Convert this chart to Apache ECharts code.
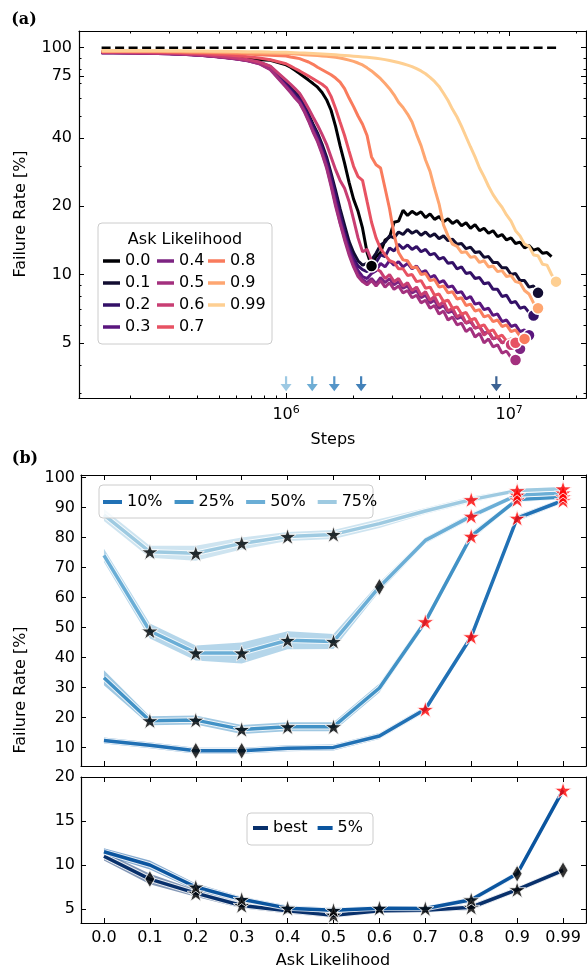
<!DOCTYPE html>
<html><head><meta charset="utf-8">
<script src="https://cdn.jsdelivr.net/npm/echarts@6/dist/echarts.min.js"></script>
<style>html,body{margin:0;padding:0;background:#fff}#c{width:587px;height:970px}</style>
</head><body><div id="c"></div>
<script>
// ---------- Panel (a) data ----------
const steps = [1.49e5,1.67e5,1.88e5,2.11e5,2.37e5,2.66e5,2.99e5,3.36e5,3.77e5,4.24e5,4.76e5,5.34e5,6.00e5,6.74e5,7.57e5,8.50e5,
1.000e6,1.048e6,1.097e6,1.150e6,1.204e6,1.261e6,1.321e6,1.384e6,1.450e6,1.519e6,1.591e6,1.667e6,1.746e6,1.829e6,1.916e6,2.007e6,2.102e6,2.202e6,2.307e6,2.416e6,2.531e6,2.652e6,2.778e6,2.910e6,3.048e6,3.193e6,3.345e6,3.504e6,3.670e6,3.845e6,4.027e6,4.219e6,4.419e6,4.629e6,4.849e6,5.080e6,5.321e6,5.574e6,5.839e6,6.117e6,6.408e6,6.712e6,7.031e6,7.366e6,7.716e6,8.082e6,8.467e6,8.869e6,9.291e6,9.732e6,1.0195e7,1.068e7,1.1187e7,1.1719e7,1.2276e7,1.286e7,1.3471e7,1.4111e7,1.4782e7,1.5485e7,1.6221e7,1.6992e7];
const likelihoods = ['0.0','0.1','0.2','0.3','0.4','0.5','0.6','0.7','0.8','0.9','0.99'];
const fr00 = [95.5,95.5,95.4,95.3,95.2,95.0,94.8,94.5,94.0,93.5,92.8,92.0,91.0,90.0,88.5,88,
84,82,79.5,77,74.5,72,69.5,67,63.5,59,53,45,37,31,25.5,21.5,19,16,12.5,10.9,
12.0,12.5,14.2,14.6,17.0,17.2,19.2,18.2,19.0,18.4,18.9,17.8,18.5,17.5,18.0,17.1,17.6,16.8,17.3,16.4,16.9,16.0,16.6,15.6,16.0,15.2,15.6,14.7,15.0,14.2,14.5,13.7,13.9,13.1,13.4,12.8,13.0,12.4,12.5,12.0];
const fr01 = [95.2,95.2,95.1,95.0,94.8,94.6,94.3,93.9,93.4,92.7,91.8,90.8,89.6,88.2,86.3,82.5,
70,67,63.5,60.5,56,51,46,42,37.5,33,28,23.5,19.5,16.5,14,12.5,11.5,11.0,11.2,
11.6,12.4,13.5,13.9,14.8,14.5,15.4,15.0,15.8,15.2,15.6,14.9,15.4,14.7,15.1,14.4,14.8,14.1,14.3,13.6,13.7,13.0,13.2,12.5,12.6,11.9,12.0,11.3,11.3,10.7,10.7,10.0,10.1,9.4,9.4,8.8,8.9,8.3];
const fr02 = [95.1,95.1,95.0,94.9,94.7,94.5,94.2,93.8,93.3,92.6,91.7,90.7,89.5,88.1,86.0,82.0,
69,66,62.5,59.5,55,50,45,41,36.5,32,27,22.5,18.5,15.5,13.2,11.8,10.9,10.5,10.3,
10.9,11.3,12.2,12.0,13.1,12.7,13.6,13.0,13.5,12.9,13.3,12.6,12.9,12.2,12.4,11.7,11.9,11.2,11.3,10.6,10.8,10.1,10.2,9.6,9.7,9.1,9.2,8.6,8.6,8.0,8.1,7.5,7.6,7.1,7.2,6.8,6.6];
const fr03 = [95.0,95.0,94.9,94.8,94.6,94.4,94.1,93.7,93.2,92.5,91.6,90.6,89.3,87.8,85.5,81.0,
68,64.5,61,58,53.5,48.5,43.5,39.5,35,30.5,25.5,21,17.5,14.8,12.8,11.4,10.4,9.8,9.6,
10.1,10.4,11.2,10.8,11.5,11.0,11.4,10.8,11.2,10.6,10.9,10.2,10.4,9.7,9.9,9.2,9.4,8.8,8.9,8.3,8.4,7.8,8.0,7.4,7.5,7.0,7.1,6.6,6.7,6.2,6.3,5.9,6.0,5.6,5.7,5.4];
const fr04 = [95.0,95.0,94.9,94.8,94.6,94.4,94.1,93.7,93.1,92.4,91.5,90.5,89.2,87.6,85.2,80.5,
67.5,64,60.5,57.5,53,48,43,39,34.5,30,25,20.5,17,14.5,12.5,11.0,10.0,9.5,9.2,
9.6,9.1,9.7,9.2,9.6,9.0,9.3,8.7,8.9,8.3,8.5,7.9,8.1,7.5,7.7,7.1,7.3,6.8,6.9,6.4,6.5,6.1,6.2,5.8,5.9,5.5,5.6,5.2,5.3,5.0,5.1,4.8,4.9,4.7];
const fr05 = [94.9,94.9,94.8,94.7,94.5,94.3,94.0,93.6,93.0,92.3,91.4,90.4,89.1,87.5,85.0,80.0,
67,63.5,60,57,52.5,47.5,42.5,38.5,34,29.5,24.5,20,16.8,14.2,12.2,10.8,9.8,9.3,9.0,
9.4,8.9,9.4,8.8,9.2,8.6,8.9,8.3,8.5,7.9,8.1,7.5,7.7,7.1,7.3,6.7,6.9,6.3,6.5,6.0,6.1,5.6,5.8,5.3,5.5,5.0,5.2,4.8,4.9,4.5,4.6,4.3,4.2];
const fr06 = [95.3,95.3,95.2,95.1,95.0,94.8,94.5,94.2,93.7,93.0,92.2,91.2,90.0,88.6,86.5,83.0,
72,69,66,63,58.5,54,49.5,45.5,41.5,37.5,33,29,26,24,21,17.5,14.5,12.6,12.9,11.5,
10.6,10.3,9.6,10.0,9.3,9.6,8.9,9.2,8.5,8.8,8.1,8.4,7.7,8.0,7.3,7.6,6.9,7.1,6.5,6.7,6.1,6.3,5.8,5.9,5.4,5.6,5.2,5.3,5.0,5.1,4.9];
const fr07 = [96.0,96.0,95.9,95.8,95.7,95.5,95.3,95.0,94.6,94.2,93.6,93.0,92.2,91.3,90.0,88.5,
85,83,81,79,77,75,73,71,69,66.5,61,54,47,41,35,30,27,26,21,17,14.5,13,12.2,11.5,
11.3,10.6,10.6,9.9,10.0,9.3,9.4,8.7,8.8,8.1,8.2,7.6,7.7,7.1,7.2,6.7,6.8,6.3,6.4,5.9,6.0,5.6,5.7,5.3,5.4,5.1,5.2,5.0];
const fr08 = [96.5,96.5,96.5,96.4,96.3,96.2,96.0,95.8,95.6,95.3,95.0,94.7,94.3,93.8,93.2,92.6,
92,91,90.3,89.5,88,86.5,84.5,82,80,78,76,73.5,70.5,66,60,55,50,46,41,33,30.5,29.5,24,19.5,15,12.5,11.6,
11.5,10.7,10.8,10.0,10.1,9.4,9.5,8.8,8.9,8.3,8.4,7.8,7.9,7.3,7.4,6.9,7.0,6.5,6.6,6.2,6.3,5.9,6.0,5.6,5.7,5.35,5.2];
const fr09 = [96.5,96.5,96.5,96.5,96.4,96.4,96.3,96.2,96.1,96.0,95.8,95.6,95.4,95.1,94.8,94.5,
94.3,94.1,93.8,93.5,93.2,92.9,92.6,92.3,92.0,91.6,91.2,90.7,90.0,89.2,88.2,87.0,85.6,84.0,81.5,79,76,73,69.5,66,62,57.5,54.5,51,47,41.5,37,32,28.5,24,20.5,16.5,14.8,13.6,
13.3,12.5,12.6,11.9,12.0,11.3,11.5,10.8,10.9,10.3,10.4,9.8,9.9,9.3,9.2,8.5,8.2,7.5,7.1];
const fr099 = [97,97,97,97,97,97,97,96.9,96.8,96.7,96.6,96.5,96.3,96.1,95.9,95.7,
95.5,95.3,95.1,94.9,94.7,94.5,94.3,94.1,93.9,93.6,93.3,93.0,92.7,92.4,92.1,91.8,91.5,91.1,90.7,90.3,89.8,89.3,88.6,87.8,87.0,86.0,85.0,83.8,82.5,80.8,79.0,76.8,74.0,71.0,67.5,63.0,58.5,53.5,49.5,45.0,40.5,36.5,33.0,29.5,27.0,24.5,22.5,21.0,19.8,18.3,17.2,15.6,14.8,13.6,13.3,12.2,12.1,11.1,11.0,10.0,9.3];
const refSteps = [1.49e5, 1.68e7];
const refValue = 100;
const arrowSteps = [1.0e6, 1.31e6, 1.645e6, 2.17e6, 8.76e6];
const xTicksA = [1e6, 1e7];
const xMinorA = [2e5,3e5,4e5,5e5,6e5,7e5,8e5,9e5,2e6,3e6,4e6,5e6,6e6,7e6,8e6,9e6,2e7];
const yTicksA = [5, 10, 20, 40, 75, 100];
const yMinorA = [3,4,6,7,8,9,30,50,60,70,80,90];

// ---------- Panel (b) data ----------
const categories = ['0.0','0.1','0.2','0.3','0.4','0.5','0.6','0.7','0.8','0.9','0.99'];
const p10 = [12.3, 10.7, 8.9, 8.9, 9.7, 10.0, 13.8, 22.7, 46.9, 86.4, 92.3];
const p25 = [33.2, 18.9, 19.1, 16.0, 16.9, 16.9, 29.8, 51.9, 80.4, 92.6, 93.5];
const p50 = [74.0, 48.8, 41.5, 41.5, 45.7, 45.3, 63.5, 79.0, 87.1, 94.1, 94.8];
const p75 = [87.5, 75.2, 74.7, 78.0, 80.3, 81.0, 84.6, 88.8, 92.6, 95.6, 96.2];
const sd10 = [1.0, 1.0, 1.0, 1.0, 1.0, 1.0, 1.0, 1.0, 1.2, 1.0, 0.8];
const sd25 = [2.5, 1.5, 1.5, 1.5, 1.5, 1.5, 1.5, 1.2, 1.2, 0.8, 0.8];
const sd50 = [2.2, 2.5, 2.5, 3.5, 3.0, 2.5, 1.5, 1.0, 1.0, 0.6, 0.5];
const sd75 = [2.0, 2.0, 2.5, 2.0, 1.5, 1.5, 1.5, 1.0, 1.0, 0.6, 0.5];
const mk10 = ['', '', 'd','d','','','','r','r','r','r'];
const mk25 = ['', 's','s','s','s','s','','r','r','r','r'];
const mk50 = ['', 's','s','s','s','s','d','','r','r','r'];
const mk75 = ['', 's','s','s','s','s','','','r','r','r'];
const pBest = [11.0, 8.4, 6.8, 5.4, 4.8, 4.3, 4.8, 4.85, 5.2, 7.2, 9.4];
const p5 = [11.5, 10.0, 7.5, 6.1, 5.1, 4.85, 5.1, 5.05, 6.05, 9.0, 18.5];
const sdBest = [0.5, 0.6, 0.4, 0.3, 0.3, 0.3, 0.25, 0.25, 0.3, 0.3, 0.3];
const sd5 = [0.4, 0.5, 0.4, 0.3, 0.3, 0.3, 0.25, 0.25, 0.3, 0.3, 0.4];
const mkBest = ['', 'd','s','s','','s','','','s','s','d'];
const mk5 = ['', '', 's','s','s','s','s','s','s','d','r'];
const yTicksB1 = [10,20,30,40,50,60,70,80,90,100];
const yTicksB2 = [5,10,15,20];

// ---------- styling ----------
const FONT = 'DejaVu Sans';
const magma = ['#000004','#120d31','#331067','#5a167e','#7d2482','#a3307e','#c83e73','#e75263','#f97b5d','#fea671','#fecf92'];
const arrowColors = ['#85bcdc','#4a98c9','#2b7bba','#1462a8','#0b3b78'];
const cols = {p10:'#2171b5', p25:'#4292c6', p50:'#6baed6', p75:'#9ecae1', best:'#08306b', p5:'#0b559f'};
const STAR = 'path://M50 0 L61.2 34.5 L97.6 34.5 L68.2 55.9 L79.4 90.5 L50 69.1 L20.6 90.5 L31.8 55.9 L2.4 34.5 L38.8 34.5 Z';
const ARROW = 'path://M40 0 L60 0 L60 52 L100 52 L50 100 L0 52 L40 52 Z';

const chart = echarts.init(document.getElementById('c'), null, {renderer:'canvas'});
const lineAx = {show:true, onZero:false, lineStyle:{color:'#000', width:1.2}};
const txt = {color:'#000', fontFamily:FONT, fontSize:16};

function xLog(pos, ticks, len, label, line) {
  return {type:'log', logBase:10, gridIndex:0, position:pos, min:1.18e5, max:2.21e7,
    axisLine: line ? lineAx : {show:false},
    axisTick:{show:true, inside:true, length:len, customValues:ticks, lineStyle:{color:'#000', width:1}},
    axisLabel: label ? {show:true, customValues:ticks, margin:7,
      formatter: v => '{b|10}{s|' + Math.round(Math.log10(v)) + '}',
      rich:{b:{fontSize:16, fontFamily:FONT, color:'#000', lineHeight:20}, s:{fontSize:11, fontFamily:FONT, color:'#000', verticalAlign:'top', lineHeight:11}}} : {show:false},
    splitLine:{show:false}, minorTick:{show:false}};
}
function yLog(pos, ticks, len, label, line) {
  return {type:'log', logBase:10, gridIndex:0, position:pos, min:2.854, max:118.5,
    axisLine: line ? lineAx : {show:false},
    axisTick:{show:true, inside:true, length:len, customValues:ticks, lineStyle:{color:'#000', width:1}},
    axisLabel: label ? Object.assign({show:true, customValues:ticks, margin:7, formatter: v => String(v)}, txt) : {show:false},
    splitLine:{show:false}, minorTick:{show:false}};
}
function xCat(grid, pos, label) {
  return {type:'category', gridIndex:grid, position:pos, data:categories, boundaryGap:true,
    axisLine: lineAx,
    axisTick:{show:true, inside:true, alignWithLabel:true, interval:0, length:5, lineStyle:{color:'#000', width:1}},
    axisLabel: label ? Object.assign({show:true, interval:0, margin:7}, txt) : {show:false},
    splitLine:{show:false}};
}
function yVal(grid, pos, mn, mx, ticks, label) {
  return {type:'value', gridIndex:grid, position:pos, min:mn, max:mx,
    axisLine: lineAx,
    axisTick:{show:true, inside:true, length:5, customValues:ticks, lineStyle:{color:'#000', width:1}},
    axisLabel: label ? Object.assign({show:true, customValues:ticks, margin:6}, txt) : {show:false},
    splitLine:{show:false}};
}

const xAxis = [
  xLog('bottom', xTicksA, 5, true, true), xLog('bottom', xMinorA, 2.5, false, false),
  xLog('top', xTicksA, 5, false, true), xLog('top', xMinorA, 2.5, false, false),
  xCat(1, 'bottom', false), xCat(1, 'top', false),
  xCat(2, 'bottom', true), xCat(2, 'top', false)
];
const yAxis = [
  yLog('left', yTicksA, 5, true, true), yLog('left', yMinorA, 2.5, false, false),
  yLog('right', yTicksA, 5, false, true), yLog('right', yMinorA, 2.5, false, false),
  yVal(1, 'left', 3.8, 100.8, yTicksB1, true), yVal(1, 'right', 3.8, 100.8, yTicksB1, false),
  yVal(2, 'left', 3.41, 20, yTicksB2, true), yVal(2, 'right', 3.41, 20, yTicksB2, false)
];

const series = [];
// Panel (a)
series.push({type:'line', xAxisIndex:0, yAxisIndex:0, data: refSteps.map(s=>[s, refValue]), symbol:'none',
  lineStyle:{color:'#000', width:2.5, type:[9,4.5]}, silent:true, z:2});
const curves = [fr00, fr01, fr02, fr03, fr04, fr05, fr06, fr07, fr08, fr09, fr099];
const minPts = [];
curves.forEach((vals, i) => {
  series.push({type:'line', name:likelihoods[i], xAxisIndex:0, yAxisIndex:0,
    data: vals.map((v,k)=>[steps[k], v]), symbol:'none', showSymbol:false,
    lineStyle:{color:magma[i], width:3}, itemStyle:{color:magma[i]}, silent:true, z:2});
  let mi = 0; vals.forEach((v,k)=>{ if (v < vals[mi]) mi = k; });
  minPts.push({value:[steps[mi], vals[mi]], itemStyle:{color:magma[i]}});
});
series.push({type:'scatter', xAxisIndex:0, yAxisIndex:0, data:minPts, symbol:'circle', symbolSize:12,
  itemStyle:{borderColor:'#fff', borderWidth:1.5, opacity:1}, silent:true, z:5});
series.push({type:'scatter', xAxisIndex:0, yAxisIndex:0,
  data: arrowSteps.map((s,i)=>({value:[s, 3.3], itemStyle:{color:arrowColors[i]}})),
  symbol:ARROW, symbolSize:[11,15], silent:true, z:5});

// Panel (b)
function addBand(xi, yi, center, sd, color, name, stackId) {
  series.push({type:'line', xAxisIndex:xi, yAxisIndex:yi, data:center.map((c,i)=>c-sd[i]), stack:stackId,
    symbol:'none', lineStyle:{opacity:0, width:0}, silent:true, z:2});
  series.push({type:'line', xAxisIndex:xi, yAxisIndex:yi, data:sd.map(s=>2*s), stack:stackId,
    symbol:'none', lineStyle:{opacity:0, width:0}, areaStyle:{color:color, opacity:0.5}, silent:true, z:2});
  series.push({type:'line', xAxisIndex:xi, yAxisIndex:yi, data:center, symbol:'none',
    lineStyle:{color:'#ffffff', width:5.5, opacity:0.8}, silent:true, z:3});
  series.push({type:'line', name:name, xAxisIndex:xi, yAxisIndex:yi, data:center, symbol:'none',
    lineStyle:{color:color, width:3.5}, itemStyle:{color:color}, silent:true, z:3});
}
function addMarkers(xi, yi, center, marks) {
  const st=[], rd=[], dm=[];
  marks.forEach((m,i)=>{ if(m==='s') st.push([i, center[i]]); else if(m==='r') rd.push([i, center[i]]); else if(m==='d') dm.push([i, center[i]]); });
  series.push({type:'scatter', xAxisIndex:xi, yAxisIndex:yi, data:dm, symbol:'diamond', symbolSize:[10,17],
    itemStyle:{color:'#000', borderColor:'#fff', borderWidth:1}, silent:true, z:10});
  series.push({type:'scatter', xAxisIndex:xi, yAxisIndex:yi, data:st, symbol:STAR, symbolSize:17, symbolKeepAspect:true,
    itemStyle:{color:'#000', borderColor:'#fff', borderWidth:1}, silent:true, z:10});
  series.push({type:'scatter', xAxisIndex:xi, yAxisIndex:yi, data:rd, symbol:STAR, symbolSize:17, symbolKeepAspect:true,
    itemStyle:{color:'#ff0000', borderColor:'#fff', borderWidth:1}, silent:true, z:10});
}
addBand(4, 4, p10, sd10, cols.p10, '10%', 'b10');
addBand(4, 4, p25, sd25, cols.p25, '25%', 'b25');
addBand(4, 4, p50, sd50, cols.p50, '50%', 'b50');
addBand(4, 4, p75, sd75, cols.p75, '75%', 'b75');
addMarkers(4, 4, p10, mk10);
addMarkers(4, 4, p25, mk25);
addMarkers(4, 4, p50, mk50);
addMarkers(4, 4, p75, mk75);
addBand(6, 6, pBest, sdBest, cols.best, 'best', 'bb');
addBand(6, 6, p5, sd5, cols.p5, '5%', 'b5');
addMarkers(6, 6, pBest, mkBest);
addMarkers(6, 6, p5, mk5);

const legTxt = {color:'#000', fontFamily:FONT, fontSize:16, lineHeight:18};
function legA(names, left) {
  return {data:names, orient:'vertical', left:left, top:252, itemGap:4, itemWidth:17, itemHeight:3.5,
    icon:'rect', selectedMode:false, textStyle:legTxt, padding:0, z:8};
}
const legend = [
  legA(likelihoods.slice(0,4), 103), legA(likelihoods.slice(4,8), 157), legA(likelihoods.slice(8), 208),
  {data:['10%','25%','50%','75%'], orient:'horizontal', left:103, top:493, itemGap:12, itemWidth:19, itemHeight:4,
    icon:'rect', selectedMode:false, textStyle:legTxt, padding:0, z:8},
  {data:['best','5%'], orient:'horizontal', left:253, top:819, itemGap:10, itemWidth:15, itemHeight:4,
    icon:'rect', selectedMode:false, textStyle:legTxt, padding:0, z:8}
];

function gText(text, x, y, opts) {
  return Object.assign({type:'text', x:x, y:y, z:9, silent:true,
    style:Object.assign({text:text, font:'16px "DejaVu Sans"', fill:'#000', align:'center', verticalAlign:'middle',
      textAlign:'center', textVerticalAlign:'middle'}, (opts && opts.style) || {})}, (opts && opts.el) || {});
}
function gBox(x, y, w, h) {
  return {type:'rect', shape:{x:x, y:y, width:w, height:h, r:4}, z:7, silent:true,
    style:{fill:'rgba(255,255,255,0.8)', stroke:'#cccccc', lineWidth:1}};
}
const graphic = [
  gBox(98, 223, 174, 121), gBox(99, 485, 274, 33), gBox(247, 813, 126, 32),
  gText('Ask Likelihood', 185, 240),
  gText('(a)', 24, 20, {style:{font:'bold 16px "DejaVu Serif"'}}),
  gText('(b)', 25, 459, {style:{font:'bold 16px "DejaVu Serif"'}}),
  gText('Failure Rate [%]', 21, 214, {el:{rotation:Math.PI/2}}),
  gText('Failure Rate [%]', 21, 690, {el:{rotation:Math.PI/2}}),
  gText('Steps', 333, 440),
  gText('Ask Likelihood', 333, 961)
];

chart.setOption({
  animation:false,
  backgroundColor:'#fff',
  grid:[
    {left:79, top:31, width:507, height:367, containLabel:false},
    {left:81, top:475, width:505, height:291, containLabel:false},
    {left:81, top:777, width:505, height:146, containLabel:false}
  ],
  xAxis:xAxis, yAxis:yAxis, series:series, legend:legend, graphic:graphic
});
</script></body></html>
